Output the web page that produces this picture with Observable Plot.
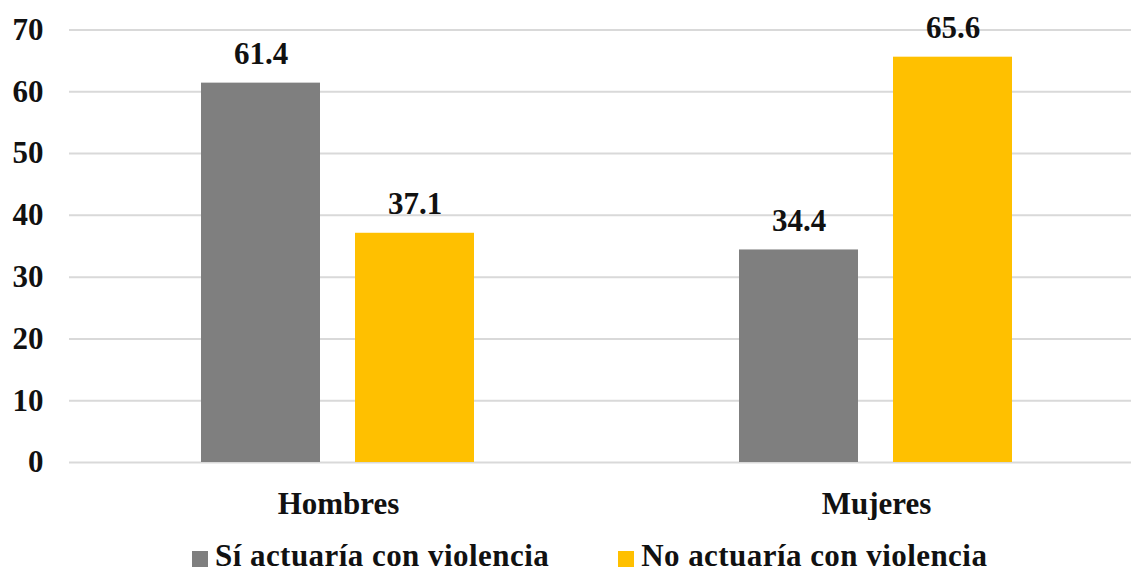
<!DOCTYPE html>
<html>
<head>
<meta charset="utf-8">
<script src="https://cdn.jsdelivr.net/npm/d3@7"></script>
<script src="https://cdn.jsdelivr.net/npm/@observablehq/plot@0.6"></script>
<style>
  html, body { margin: 0; padding: 0; background: #fff; }
  body { width: 1131px; height: 573px; overflow: hidden; position: relative;
         font-family: "Liberation Serif", "Times New Roman", serif; font-weight: bold; }
  #chart { width: 1131px; overflow: hidden; }
  #chart svg { max-width: none !important; }
  #legend { position: absolute; left: 192px; top: 540px; display: flex; align-items: center;
            font-size: 31px; line-height: 31px; color: #111; white-space: nowrap; letter-spacing: 0.45px; }
  .item { display: flex; align-items: center; }
  .sw { width: 16px; height: 16px; margin-right: 7px; margin-top: 6px; }
</style>
</head>
<body>
<div id="chart"></div>
<div id="legend"></div>
<script>
const categories = ["Hombres", "Mujeres"];
const series = ["Sí actuaría con violencia", "No actuaría con violencia"];
const siValues = [61.4, 34.4];
const noValues = [37.1, 65.6];
const yTicks = [0, 10, 20, 30, 40, 50, 60, 70];
const colors = ["#7f7f7f", "#ffc000"];

const data = [];
categories.forEach((c, i) => {
  data.push({category: c, series: series[0], value: siValues[i]});
  data.push({category: c, series: series[1], value: noValues[i]});
});

const font = '"Liberation Serif", "Times New Roman", serif';

const chart = Plot.plot({
  width: 1145,
  height: 520,
  marginLeft: 68,
  marginRight: 0,
  marginTop: 29.5,
  marginBottom: 58,
  style: {fontFamily: font, fontWeight: "bold", fontSize: "31px", color: "#111", background: "#fff", maxWidth: "none"},
  fx: {domain: categories, padding: 0, label: null},
  x: {domain: series, paddingInner: 0.2258, paddingOuter: 0.85, axis: null},
  y: {domain: [0, 70], label: null},
  color: {domain: series, range: colors},
  marks: [
    Plot.gridY(yTicks, {stroke: "#d9d9d9", strokeOpacity: 1, strokeWidth: 2}),
    Plot.axisY(yTicks, {tickSize: 0, tickPadding: 26, fontSize: 31, fontWeight: "bold", label: null}),
    Plot.axisFx({anchor: "bottom", tickSize: 0, tickPadding: 29, fontSize: 31, fontWeight: "bold", label: null, style: {letterSpacing: "1px"}}),
    Plot.barY(data, {fx: "category", x: "series", y: "value", fill: "series"}),
    Plot.text(data, {fx: "category", x: "series", y: "value", text: d => d.value.toFixed(1),
      lineAnchor: "bottom", dy: -19, fontSize: 31, fontWeight: "bold", fill: "#111"})
  ]
});
document.getElementById("chart").appendChild(chart);

const legend = document.getElementById("legend");
series.forEach((s, i) => {
  const item = document.createElement("div");
  item.className = "item";
  if (i > 0) item.style.marginLeft = "69px";
  const sw = document.createElement("div");
  sw.className = "sw";
  sw.style.background = colors[i];
  const label = document.createElement("span");
  label.textContent = s;
  item.appendChild(sw);
  item.appendChild(label);
  legend.appendChild(item);
});
</script>
</body>
</html>
